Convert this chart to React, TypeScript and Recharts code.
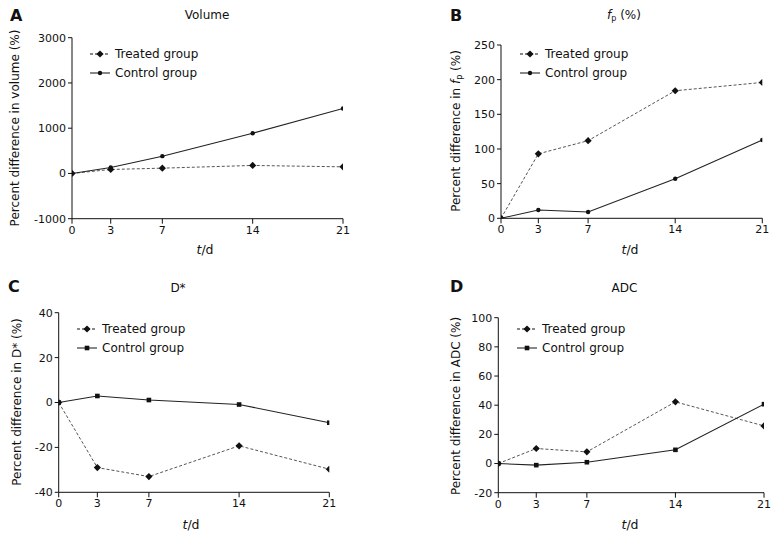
import React from 'react';
import { LineChart, Line, XAxis, YAxis, Legend } from 'recharts';

const days = [0, 3, 7, 14, 21];
const xTicks = [0, 3, 7, 14, 21];

const volumeTreated = [0, 88, 117, 177, 146];
const volumeControl = [0, 130, 382, 890, 1436];
const fpTreated = [0, 93, 112, 184, 196];
const fpControl = [0, 12, 9, 57, 113];
const dStarTreated = [0, -29, -33, -19.3, -29.7];
const dStarControl = [0, 2.9, 1.1, -0.9, -9];
const adcTreated = [0, 10.3, 8, 42.3, 25.8];
const adcControl = [0, -1.1, 0.9, 9.4, 40.7];

const volumeTicks = [-1000, 0, 1000, 2000, 3000];
const fpTicks = [0, 50, 100, 150, 200, 250];
const dStarTicks = [-40, -20, 0, 20, 40];
const adcTicks = [-20, 0, 20, 40, 60, 80, 100];

const seriesKeys = ['treated', 'control'];
const seriesNames = ['Treated group', 'Control group'];

const FONT = '"DejaVu Sans", Verdana, sans-serif';

const makeRows = (a: number[], b: number[]) =>
  days.map((t, i) => ({ t, treated: a[i], control: b[i] }));

const diamondPath = (cx: number, cy: number, r: number) =>
  `M${cx},${cy - r} L${cx + r},${cy} L${cx},${cy + r} L${cx - r},${cy} Z`;

const renderDiamond = (props: any) => {
  const { cx, cy, index } = props;
  if (cx == null || cy == null) return <g key={`dm-${index}`} />;
  return <path key={`dm-${index}`} d={diamondPath(cx, cy, 3.6)} fill="#111" />;
};
const renderCircle = (props: any) => {
  const { cx, cy, index } = props;
  if (cx == null || cy == null) return <g key={`ci-${index}`} />;
  return <circle key={`ci-${index}`} cx={cx} cy={cy} r={2.2} fill="#111" />;
};
const renderSquare = (props: any) => {
  const { cx, cy, index } = props;
  if (cx == null || cy == null) return <g key={`sq-${index}`} />;
  return <rect key={`sq-${index}`} x={cx - 2.3} y={cy - 2.3} width={4.6} height={4.6} fill="#111" />;
};

type Panel = {
  id: string;
  box: { left: number; top: number; width: number; height: number };
  plot: { left: number; top: number; right: number; bottom: number };
  domain: [number, number];
  ticks: number[];
  treated: number[];
  control: number[];
  shape: 'circle' | 'square';
  letter: string;
  letterPos: [number, number];
  title: React.ReactNode;
  titlePos: [number, number];
  ylabel: React.ReactNode;
  ylabelPos: [number, number];
  xlabelPos: [number, number];
  legendPos: [number, number];
};

const panels: Panel[] = [
  {
    id: 'A',
    box: { left: 0, top: 0, width: 390, height: 270 },
    plot: { left: 72, top: 37.7, right: 343, bottom: 218.7 },
    domain: [-1000, 3000],
    ticks: volumeTicks,
    treated: volumeTreated,
    control: volumeControl,
    shape: 'circle',
    letter: 'A',
    letterPos: [10, 8],
    title: 'Volume',
    titlePos: [207, 15],
    ylabel: 'Percent difference in volume (%)',
    ylabelPos: [15, 128.3],
    xlabelPos: [205, 250],
    legendPos: [90, 54],
  },
  {
    id: 'B',
    box: { left: 390, top: 0, width: 391, height: 270 },
    plot: { left: 501, top: 45, right: 762.3, bottom: 218.3 },
    domain: [0, 250],
    ticks: fpTicks,
    treated: fpTreated,
    control: fpControl,
    shape: 'circle',
    letter: 'B',
    letterPos: [450, 8],
    title: (
      <span>
        <i>f</i>
        <span style={{ fontSize: 8, position: 'relative', top: 2 }}>p</span> (%)
      </span>
    ),
    titlePos: [624, 15],
    ylabel: (
      <span>
        Percent difference in <i>f</i>
        <span style={{ fontSize: 8, position: 'relative', top: 2 }}>p</span> (%)
      </span>
    ),
    ylabelPos: [456, 130.8],
    xlabelPos: [630, 250],
    legendPos: [520, 54],
  },
  {
    id: 'C',
    box: { left: 0, top: 270, width: 390, height: 269 },
    plot: { left: 58.7, top: 312.7, right: 329.3, bottom: 492.3 },
    domain: [-40, 40],
    ticks: dStarTicks,
    treated: dStarTreated,
    control: dStarControl,
    shape: 'square',
    letter: 'C',
    letterPos: [8, 279],
    title: 'D*',
    titlePos: [178, 288],
    ylabel: 'Percent difference in D* (%)',
    ylabelPos: [16.7, 401.7],
    xlabelPos: [191, 525],
    legendPos: [77, 328.7],
  },
  {
    id: 'D',
    box: { left: 390, top: 270, width: 391, height: 269 },
    plot: { left: 498.3, top: 317.7, right: 764, bottom: 492.7 },
    domain: [-20, 100],
    ticks: adcTicks,
    treated: adcTreated,
    control: adcControl,
    shape: 'square',
    letter: 'D',
    letterPos: [450, 279],
    title: 'ADC',
    titlePos: [624.5, 288],
    ylabel: 'Percent difference in ADC (%)',
    ylabelPos: [456.3, 405.8],
    xlabelPos: [630, 525],
    legendPos: [516.7, 329],
  },
];

const Y_AXIS_W = 40;
const X_AXIS_H = 30;

const makeLegend = (shape: 'circle' | 'square') => (props: any) => {
  const payload = (props && props.payload) || [];
  const names = seriesKeys.map((k, i) => {
    const found = payload.find((p: any) => p.dataKey === k);
    return found && found.value ? String(found.value) : seriesNames[i];
  });
  return (
    <svg width={150} height={40} style={{ display: 'block', overflow: 'visible' }}>
      {names.map((name: string, i: number) => {
        const y = 9 + 19 * i;
        const dashed = i === 0;
        return (
          <g key={name}>
            <line
              x1={0}
              x2={20}
              y1={y}
              y2={y}
              stroke="#111"
              strokeWidth={1}
              strokeDasharray={dashed ? '3 2' : undefined}
            />
            {dashed ? (
              <path d={diamondPath(10, y, 3.6)} fill="#111" />
            ) : shape === 'circle' ? (
              <circle cx={10} cy={y} r={2.2} fill="#111" />
            ) : (
              <rect x={7.7} y={y - 2.3} width={4.6} height={4.6} fill="#111" />
            )}
            <text
              x={25}
              y={y}
              dominantBaseline="central"
              fontSize={12}
              fontFamily={FONT}
              fill="#111"
            >
              {name}
            </text>
          </g>
        );
      })}
    </svg>
  );
};

const PanelChart = ({ p }: { p: Panel }) => {
  const data = makeRows(p.treated, p.control);
  const margin = {
    left: p.plot.left - p.box.left - Y_AXIS_W,
    top: p.plot.top - p.box.top,
    right: p.box.left + p.box.width - p.plot.right,
    bottom: p.box.top + p.box.height - p.plot.bottom - X_AXIS_H,
  };
  const tickStyle = { fontSize: 11, fontFamily: FONT, fill: '#111' };
  return (
    <div style={{ position: 'absolute', left: p.box.left, top: p.box.top }}>
      <LineChart width={p.box.width} height={p.box.height} data={data} margin={margin}>
        <XAxis
          type="number"
          dataKey="t"
          domain={[0, 21]}
          ticks={xTicks}
          interval={0}
          height={X_AXIS_H}
          tickSize={5}
          tickMargin={2}
          stroke="#111"
          tick={tickStyle}
          allowDataOverflow
        />
        <YAxis
          type="number"
          domain={p.domain}
          ticks={p.ticks}
          interval={0}
          width={Y_AXIS_W}
          tickSize={4}
          tickMargin={2}
          stroke="#111"
          tick={tickStyle}
          allowDataOverflow
        />
        <Legend
          layout="vertical"
          align="center"
          verticalAlign="middle"
          content={makeLegend(p.shape)}
          wrapperStyle={{
            position: 'absolute',
            left: p.legendPos[0] - p.box.left,
            top: p.legendPos[1] - p.box.top - 9,
            width: 150,
            height: 40,
          }}
        />
        <Line
          type="linear"
          dataKey="treated"
          name={seriesNames[0]}
          stroke="#555"
          strokeWidth={1}
          strokeDasharray="3 2"
          dot={renderDiamond}
          activeDot={false}
          isAnimationActive={false}
        />
        <Line
          type="linear"
          dataKey="control"
          name={seriesNames[1]}
          stroke="#222"
          strokeWidth={1.1}
          dot={p.shape === 'circle' ? renderCircle : renderSquare}
          activeDot={false}
          isAnimationActive={false}
        />
      </LineChart>
    </div>
  );
};

const centered = (x: number, y: number, extra: React.CSSProperties = {}): React.CSSProperties => ({
  position: 'absolute',
  left: x,
  top: y,
  transform: 'translate(-50%, -50%)',
  whiteSpace: 'nowrap',
  lineHeight: 1,
  ...extra,
});

export default function App() {
  return (
    <div
      style={{
        position: 'absolute',
        left: 0,
        top: 0,
        width: 781,
        height: 539,
        background: '#fff',
        fontFamily: FONT,
        color: '#111',
        overflow: 'hidden',
      }}
    >
      {panels.map((p) => (
        <React.Fragment key={p.id}>
          <PanelChart p={p} />
          <div
            style={{
              position: 'absolute',
              left: p.letterPos[0],
              top: p.letterPos[1],
              fontSize: 16,
              fontWeight: 'bold',
              lineHeight: 1,
            }}
          >
            {p.letter}
          </div>
          <div style={centered(p.titlePos[0], p.titlePos[1], { fontSize: 12 })}>{p.title}</div>
          <div style={centered(p.xlabelPos[0], p.xlabelPos[1], { fontSize: 12.5 })}>
            <i>t</i>/d
          </div>
          <div
            style={centered(p.ylabelPos[0], p.ylabelPos[1], {
              fontSize: 12,
              transform: 'translate(-50%, -50%) rotate(-90deg)',
            })}
          >
            {p.ylabel}
          </div>
        </React.Fragment>
      ))}
    </div>
  );
}
